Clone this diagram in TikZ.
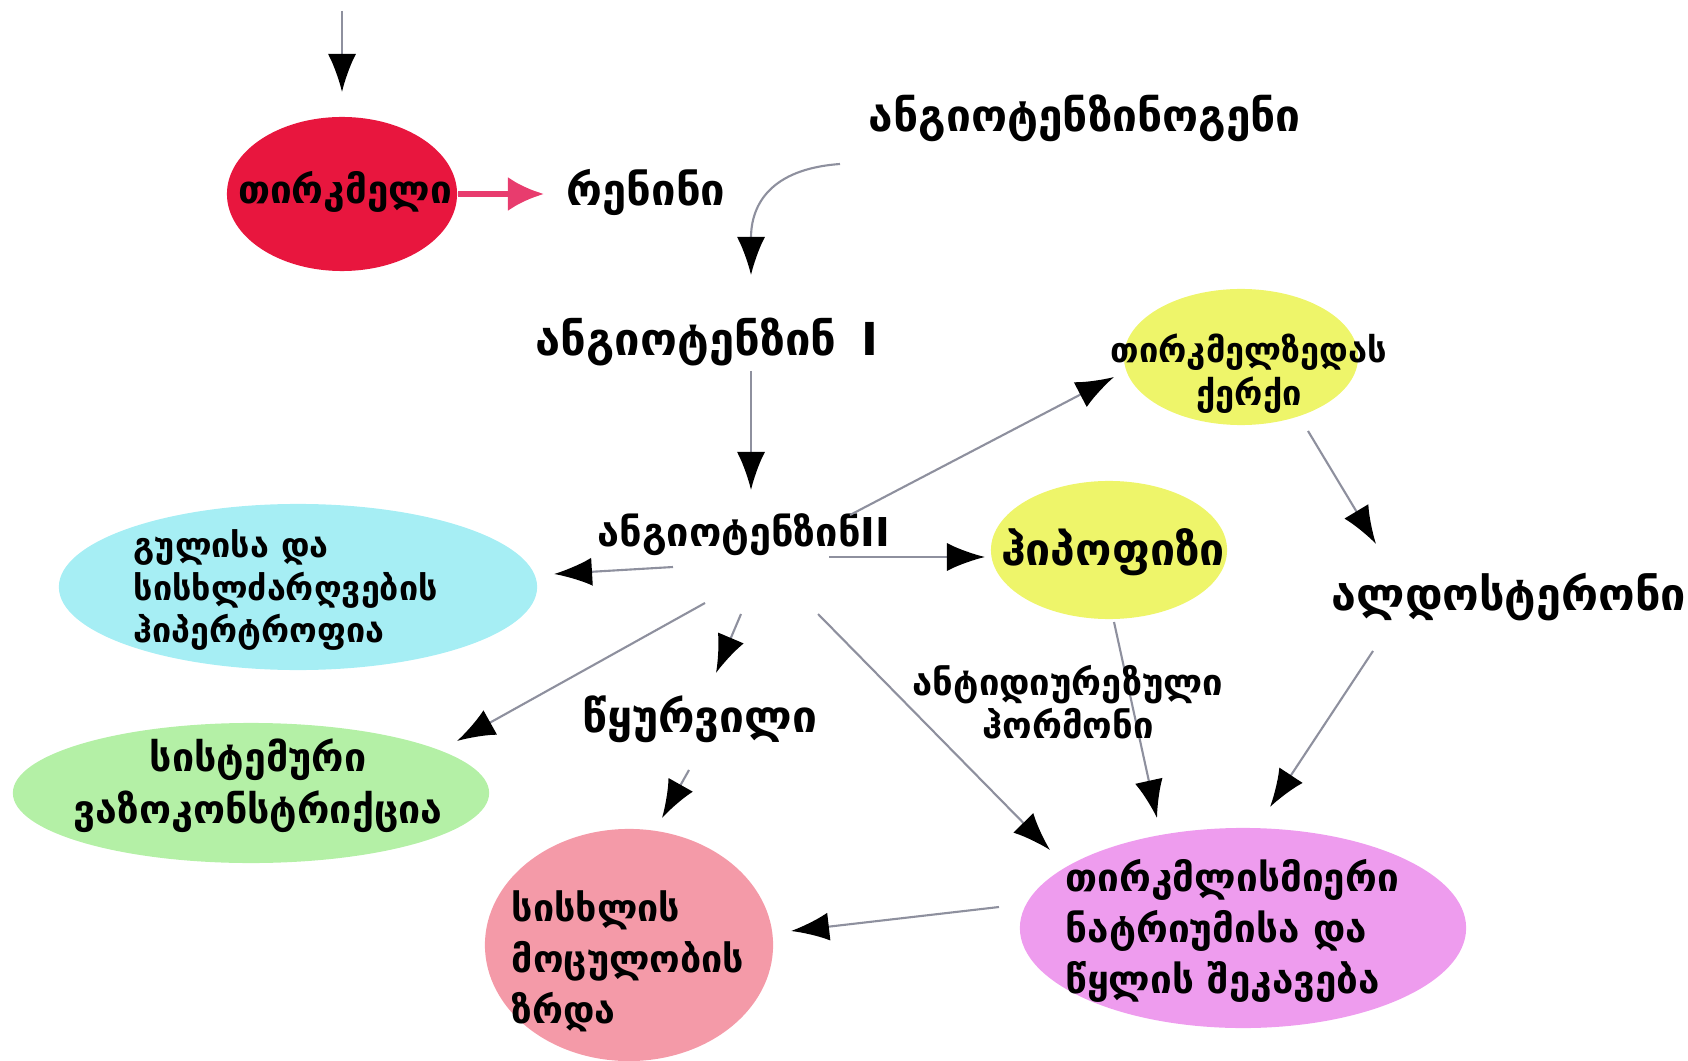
\documentclass[tikz,border=0pt]{standalone}
\usepackage{fontspec}
\setmainfont{DejaVu Sans}
\usetikzlibrary{arrows.meta,shapes.geometric}
\definecolor{kidneyred}{HTML}{E8163E}
\definecolor{reninpink}{HTML}{E83C6E}
\definecolor{glandyellow}{HTML}{EEF56A}
\definecolor{heartcyan}{HTML}{A6EEF4}
\definecolor{vasogreen}{HTML}{B4F0A6}
\definecolor{volumepink}{HTML}{F49AA8}
\definecolor{retainmagenta}{HTML}{EE9CEE}
\definecolor{linegray}{HTML}{8E909E}
\newcommand{\gtext}[2]{\fontsize{#1}{#2}\selectfont\bfseries}

\tikzset{
  blob/.style={ellipse,inner sep=0pt,draw=none},
  word/.style={inner sep=2pt,text=black},
  conn/.style={draw=linegray,line width=0.6pt,-{Latex[length=0.38cm,width=0.28cm,color=black]}},
  pinkconn/.style={draw=reninpink,line width=1.5pt,-{Latex[length=0.36cm,width=0.34cm,color=reninpink]}}
}

\begin{document}
\begin{tikzpicture}[x=0.01cm,y=-0.01cm]
  \useasboundingbox (0,0) rectangle (1688,1061);

  % coloured blobs
  \node[blob,fill=kidneyred,minimum width=2.3cm,minimum height=1.54cm] (kidney) at (342,194) {};
  \node[blob,fill=heartcyan,minimum width=4.78cm,minimum height=1.66cm] (heart) at (298,587) {};
  \node[blob,fill=vasogreen,minimum width=4.76cm,minimum height=1.4cm] (vaso) at (251,793) {};
  \node[blob,fill=volumepink,minimum width=2.88cm,minimum height=2.32cm] (volume) at (629,945) {};
  \node[blob,fill=retainmagenta,minimum width=4.46cm,minimum height=2.0cm] (retain) at (1243,928) {};
  \node[blob,fill=glandyellow,minimum width=2.34cm,minimum height=1.36cm] (adrenal) at (1241,357) {};
  \node[blob,fill=glandyellow,minimum width=2.36cm,minimum height=1.38cm] (pit) at (1109,550) {};

  % texts
  \node[word,font={\gtext{11}{13}}] (kidneylbl) at (345,192) {თირკმელი};
  \node[word,font={\gtext{12.4}{14}}] (renin) at (646,192) {რენინი};
  \node[word,font={\gtext{12.6}{15}}] (angtgen) at (1085,118) {ანგიოტენზინოგენი};
  \node[word,font={\gtext{12.9}{15}}] (ang1) at (707,342) {ანგიოტენზინ\hspace{0.55em}I};
  \node[word,font={\gtext{11.3}{13}}] (ang2) at (744,535) {ანგიოტენზინII};
  \node[word,font={\gtext{9.7}{12.2}},align=left,anchor=west] (heartlbl) at (126,590) {გულისა და\\სისხლძარღვების\\ჰიპერტროფია};
  \node[word,font={\gtext{11.2}{14.8}},align=center] (vasolbl) at (258,786) {სისტემური\\ვაზოკონსტრიქცია};
  \node[word,font={\gtext{10.7}{14.5}},align=left,anchor=west] (volumelbl) at (504,961) {სისხლის\\მოცულობის\\ზრდა};
  \node[word,font={\gtext{11}{14.4}},align=left,anchor=west] (retainlbl) at (1058,931) {თირკმლისმიერი\\ნატრიუმისა და\\წყლის შეკავება};
  \node[word,font={\gtext{9.8}{12.2}},align=center] (adrenallbl) at (1249,374) {თირკმელზედას\\ქერქი};
  \node[word,font={\gtext{12.7}{15}}] (pitlbl) at (1113,552) {ჰიპოფიზი};
  \node[word,font={\gtext{12.8}{15}}] (aldo) at (1509,597) {ალდოსტერონი};
  \node[word,font={\gtext{12.6}{15}}] (thirst) at (700,719) {წყურვილი};
  \coordinate (input) at (342,11);

  % connectors
  \draw[conn] (input) -- ([shift={(0,-102)}]kidney.center);
  \draw[pinkconn] (kidney.east) -- ([shift={(-102,2)}]renin.center);
  \draw[conn] ([shift={(-245,46)}]angtgen.center) .. controls +(-70,5) and +(0,-70) .. ([shift={(44,-67)}]ang1.center);
  \draw[conn] ([shift={(44,29)}]ang1.center) -- ([shift={(7,-45)}]ang2.center);
  \draw[conn] ([shift={(-71,32)}]ang2.center) -- ([shift={(256,-13)}]heart.center);
  \draw[conn] ([shift={(85,22)}]ang2.center) -- ([shift={(-124,7)}]pit.center);
  \draw[conn] ([shift={(106,-20)}]ang2.center) -- ([shift={(-127,20)}]adrenal.center);
  \draw[conn] ([shift={(-39,68)}]ang2.center) -- ([shift={(206,-52)}]vaso.center);
  \draw[conn] ([shift={(-3,79)}]ang2.center) -- ([shift={(16,-46)}]thirst.center);
  \draw[conn] ([shift={(74,79)}]ang2.center) -- ([shift={(-193,-78)}]retain.center);
  \draw[conn] ([shift={(67,74)}]adrenal.center) -- ([shift={(-133,-53)}]aldo.center);
  \draw[conn] ([shift={(-136,54)}]aldo.center) -- ([shift={(27,-121)}]retain.center);
  \draw[conn] ([shift={(5,72)}]pit.center) -- ([shift={(-86,-110)}]retain.center);
  \draw[conn] ([shift={(-11,51)}]thirst.center) -- ([shift={(33,-127)}]volume.center);
  \draw[conn] ([shift={(-244,-21)}]retain.center) -- ([shift={(162,-14)}]volume.center);
  \node[word,font={\gtext{10.35}{12.2}},align=center] (adh) at (1068,702) {ანტიდიურეზული\\ჰორმონი};
\end{tikzpicture}
\end{document}
